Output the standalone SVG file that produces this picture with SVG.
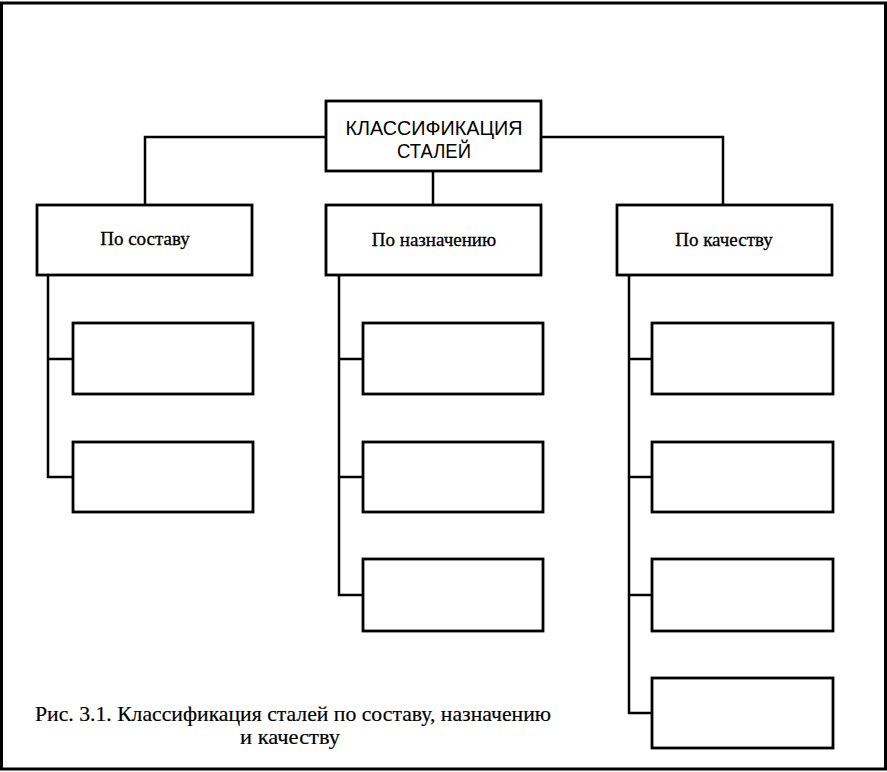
<svg xmlns="http://www.w3.org/2000/svg" width="887" height="772" viewBox="0 0 887 772">
<style>
.box{fill:#fff;stroke:#000;stroke-width:2.8}
.con{fill:none;stroke:#000;stroke-width:2.5}
.lbl{font-family:"Liberation Serif","Times New Roman",serif;font-size:19px;fill:#000;text-anchor:middle;stroke:#000;stroke-width:0.3}
.hd{font-family:"Liberation Sans",Arial,sans-serif;font-size:20px;fill:#000;text-anchor:middle}
.cap{font-family:"Liberation Serif","Times New Roman",serif;font-size:22px;fill:#000;stroke:#000;stroke-width:0.2}
</style>
<rect x="1.5" y="3" width="884" height="766" fill="#fff" stroke="#000" stroke-width="3"/>
<g id="connectors">
<polyline class="con" points="326,137 145,137 145,205"/>
<polyline class="con" points="541,137 723,137 723,205"/>
<line class="con" x1="433" y1="171" x2="433" y2="205"/>
<polyline class="con" points="48,275 48,477 73,477"/>
<line class="con" x1="48" y1="359" x2="73" y2="359"/>
<polyline class="con" points="339,275 339,595 363,595"/>
<line class="con" x1="339" y1="359" x2="363" y2="359"/>
<line class="con" x1="339" y1="477" x2="363" y2="477"/>
<polyline class="con" points="629,275 629,713 652,713"/>
<line class="con" x1="629" y1="359" x2="652" y2="359"/>
<line class="con" x1="629" y1="477" x2="652" y2="477"/>
<line class="con" x1="629" y1="595" x2="652" y2="595"/>
</g>
<g id="root">
<rect class="box" x="326" y="101" width="215" height="70"/>
<text class="hd" x="434" y="135" textLength="177" lengthAdjust="spacingAndGlyphs">КЛАССИФИКАЦИЯ</text>
<text class="hd" x="434" y="158" textLength="74" lengthAdjust="spacingAndGlyphs">СТАЛЕЙ</text>
</g>
<g id="by-composition">
<rect class="box" x="37" y="205" width="215" height="70"/>
<text class="lbl" x="145" y="245">По составу</text>
</g>
<g id="by-purpose">
<rect class="box" x="326" y="205" width="215" height="70"/>
<text class="lbl" x="434" y="246">По назначению</text>
</g>
<g id="by-quality">
<rect class="box" x="617" y="205" width="215" height="70"/>
<text class="lbl" x="724" y="246">По качеству</text>
</g>
<g id="comp-1"><rect class="box" x="73" y="323" width="180" height="71"/></g>
<g id="comp-2"><rect class="box" x="73" y="442" width="180" height="70"/></g>
<g id="purp-1"><rect class="box" x="363" y="323" width="180" height="71"/></g>
<g id="purp-2"><rect class="box" x="363" y="442" width="180" height="70"/></g>
<g id="purp-3"><rect class="box" x="363" y="559" width="180" height="72"/></g>
<g id="qual-1"><rect class="box" x="652" y="323" width="181" height="71"/></g>
<g id="qual-2"><rect class="box" x="652" y="442" width="181" height="70"/></g>
<g id="qual-3"><rect class="box" x="652" y="559" width="181" height="72"/></g>
<g id="qual-4"><rect class="box" x="652" y="678" width="181" height="70"/></g>
<g id="caption">
<text class="cap" x="35" y="721" textLength="516" lengthAdjust="spacingAndGlyphs">Рис. 3.1. Классификация сталей по составу, назначению</text>
<text class="cap" x="290" y="744" text-anchor="middle" textLength="100" lengthAdjust="spacingAndGlyphs">и качеству</text>
</g>
</svg>
